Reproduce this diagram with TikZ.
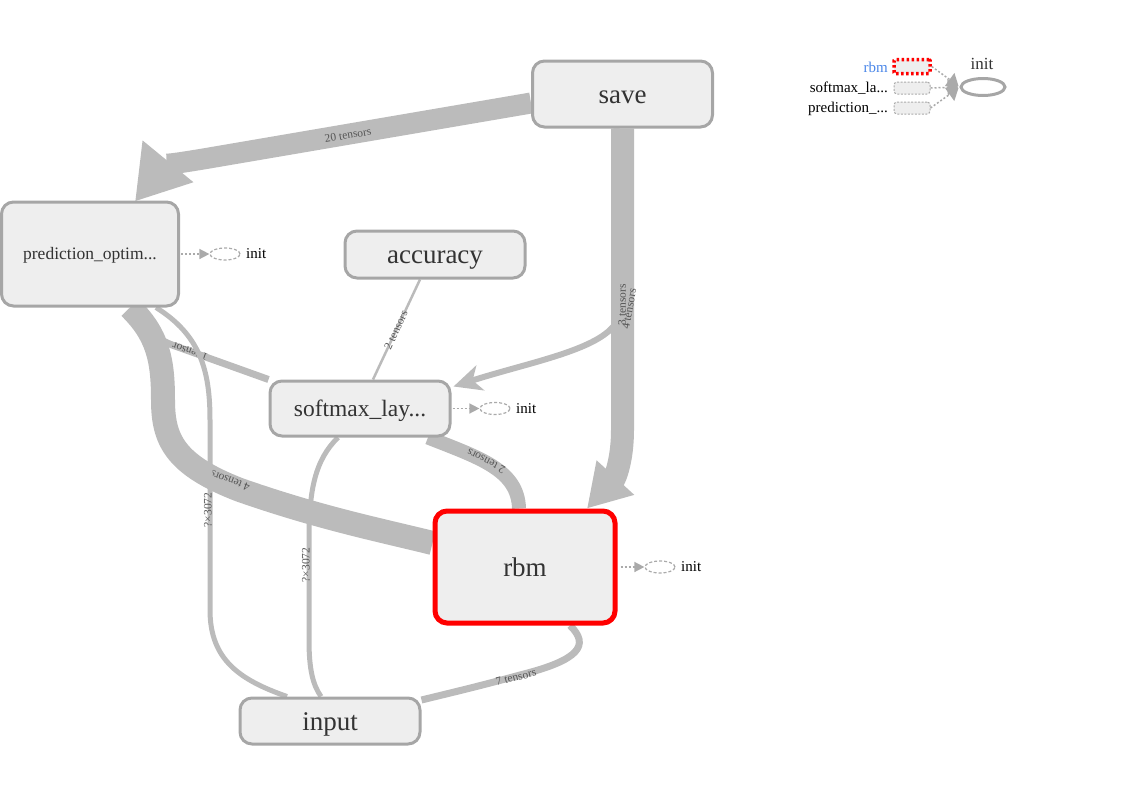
\documentclass[tikz,border=0pt]{standalone}
\usepackage{fontspec}
\setmainfont{Liberation Serif}
\usetikzlibrary{arrows.meta,shapes.geometric,calc}
\definecolor{edgegray}{HTML}{BBBBBB}
\definecolor{nodefill}{HTML}{EEEEEE}
\definecolor{nodeborder}{HTML}{A6A6A6}
\definecolor{txt}{HTML}{333333}
\definecolor{lbl}{HTML}{555555}
\definecolor{legblue}{HTML}{4A86E8}
\definecolor{dotgray}{HTML}{AAAAAA}
\pgfdeclarelayer{background}
\pgfsetlayers{background,main}
\begin{document}
\begin{tikzpicture}[x=1pt,y=-1pt,
  opnode/.style={draw=nodeborder, fill=nodefill, line width=3pt, rounded corners=12pt, inner sep=0pt, text=txt, text depth=0pt},
  bigtext/.style={font=\fontsize{27}{27}\selectfont, text height=18.4pt},
  edge/.style={draw=edgegray},
  elabel/.style={font=\fontsize{11.5}{11.5}\selectfont, text=lbl, inner sep=0pt},
  initell/.style={ellipse, draw=dotgray, line width=1.2pt, dash pattern=on 3pt off 2pt, minimum width=30pt, minimum height=12pt, inner sep=0pt},
  initlbl/.style={anchor=west, inner sep=0pt, font=\fontsize{15}{15}\selectfont, text=black},
  initarrow/.style={draw=dotgray, line width=1.5pt, dash pattern=on 2pt off 2pt, -{Triangle[length=10pt,width=10pt,fill=dotgray]}},
  legbox/.style={draw=dotgray, fill=nodefill, line width=1pt, dash pattern=on 2pt off 1.5pt, rounded corners=3pt, minimum width=36pt, minimum height=12pt, inner sep=0pt},
  leglbl/.style={anchor=east, inner sep=0pt, font=\fontsize{15}{15}\selectfont, text=black}
]
\useasboundingbox (0,0) rectangle (1125,811);

% nodes
\node[opnode, bigtext, minimum width=180pt, minimum height=66pt] (save) at (622.5,94) {save};
\node[opnode, minimum width=177pt, minimum height=104pt, font=\fontsize{17.5}{17.5}\selectfont, text height=11.9pt] (pred) at (90,254) {prediction\_optim...};
\node[opnode, bigtext, minimum width=180pt, minimum height=47pt] (accuracy) at (435,254.5) {accuracy};
\node[opnode, minimum width=180pt, minimum height=55pt, font=\fontsize{23.5}{23.5}\selectfont, text height=16pt] (softmax) at (360,408.5) {softmax\_lay...};
\node[opnode, bigtext, draw=red, line width=5pt, minimum width=180pt, minimum height=112pt] (rbm) at (525,567) {rbm};
\node[opnode, bigtext, minimum width=180pt, minimum height=46pt] (input) at (330,721) {input};

% init nodes
\node[initell] (pinit) at (225,254) {};
\node[initlbl] (pinitl) at (246,254) {init};
\draw[initarrow] ($(pred.east)+(1,0)$) -- (pinit.west);
\node[initell] (sinit) at (495,408.5) {};
\node[initlbl] (sinitl) at (516,409) {init};
\draw[initarrow] ($(softmax.east)+(1,0)$) -- (sinit.west);
\node[initell] (rinit) at (660,567) {};
\node[initlbl] (rinitl) at (681,567) {init};
\draw[initarrow] ($(rbm.east)+(3,0)$) -- (rinit.west);

% legend
\node[inner sep=0pt, font=\fontsize{17}{17}\selectfont, text=txt] (leginit) at (982,64) {init};
\node[ellipse, draw=nodeborder, line width=3pt, minimum width=44pt, minimum height=17pt, inner sep=0pt] (legell) at (983,87) {};
\node[legbox, draw=red, line width=3.5pt, dash pattern=on 2.5pt off 2.5pt, rounded corners=1pt, minimum width=36pt, minimum height=14pt] (lrbm) at (912,66.5) {};
\node[legbox] (lsm) at (912,88) {};
\node[legbox] (lpr) at (912,108) {};
\node[leglbl, text=legblue] (lrbml) at (888,67) {rbm};
\node[leglbl] (lsml) at (888,88) {softmax\_la...};
\node[leglbl] (lprl) at (888,109) {prediction\_...};
\draw[initarrow, -{Triangle[length=11pt,width=16pt,fill=dotgray]}] (lrbm.east) -- ($(legell.west)+(-1,-1)$);
\draw[initarrow, -{Triangle[length=11pt,width=16pt,fill=dotgray]}] (lsm.east) -- ($(legell.west)+(-1,0)$);
\draw[initarrow, -{Triangle[length=11pt,width=16pt,fill=dotgray]}] (lpr.east) -- ($(legell.west)+(-1,1)$);

% edges
\begin{pgfonlayer}{background}
% 1 tensor: pred -> softmax
\draw[edge, line width=7pt] ($(pred.south)+(50,0)$) .. controls (150,335) and (160,341) .. (175,346) -- (softmax.north west);
\node[elabel, rotate=160] (l1) at (190,352) {1 tensor};
% pred -> rbm (thick)
\draw[edge, line width=24pt] ($(pred.south)+(40,0)$) .. controls (158,335) and (163,360) .. (163,400)
  .. controls (163,440) and (175,465) .. (240,490) .. controls (320,518) and (380,530) .. ($(rbm.west)+(0,-24)$);
\node[elabel, rotate=159] (l4) at (230,481) {4 tensors};
% pred -> input
\draw[edge, line width=5pt] ($(pred.south)+(66,0)$) .. controls (200,335) and (210,370) .. (210,420)
  -- (210,610) .. controls (210,660) and (240,680) .. ($(input.north)+(-43,0)$);
\node[elabel, rotate=90] (l5) at (208,510) {?×3072};
% softmax -> input
\draw[edge, line width=5pt] ($(softmax.south)+(-22,0)$) .. controls (315,460) and (309,490) .. (309,540)
  -- (309,640) .. controls (309,670) and (313,685) .. ($(input.north)+(-9,0)$);
\node[elabel, rotate=90] (l6) at (306,565) {?×3072};
% save -> pred
\draw[edge, line width=21pt, -{Triangle[length=52pt,width=62pt]}] ($(save.west)+(0,9)$) -- (215,157)
  .. controls (180,163) and (165,165) .. ($(pred.north east)+(-45,1)$);
\node[elabel, rotate=9.5] (l20) at (348,135) {20 tensors};
% save -> rbm
\draw[edge, line width=23pt, -{Triangle[length=42pt,width=48pt]}] (save.south) -- (622.5,430)
  .. controls (622.5,460) and (615,478) .. ($(rbm.north)+(62,0)$);
% save -> softmax
\draw[edge, line width=6pt, -{Stealth[length=28pt,width=26pt,inset=8pt]}] ($(save.south)+(-6,0)$) -- (616.5,322)
  .. controls (600,350) and (530,362) .. ($(softmax.north east)+(2,7)$);
\node[elabel, rotate=90] (l3) at (622,305) {3 tensors};
\node[elabel, rotate=80] (l4b) at (629,309) {4 tensors};
% softmax -> rbm
\draw[edge, line width=14pt] ($(softmax.south)+(68,0)$) .. controls (480,458) and (518,470) .. ($(rbm.north)+(-6,0)$);
\node[elabel, rotate=153] (l2b) at (486,461) {2 tensors};
% rbm -> input
\draw[edge, line width=7pt] ($(rbm.south)+(45,0)$) .. controls (590,645) and (580,660) .. (520,675)
  .. controls (480,686) and (450,693) .. ($(input.east)+(0,-21)$);
\node[elabel, rotate=14] (l7) at (516,677) {7 tensors};
% accuracy -> softmax
\draw[edge, line width=2.5pt] ($(accuracy.south)+(-15,0)$) -- ($(softmax.north)+(13,0)$);
\node[elabel, rotate=65] (l2a) at (396,330) {2 tensors};
\end{pgfonlayer}
\end{tikzpicture}
\end{document}
